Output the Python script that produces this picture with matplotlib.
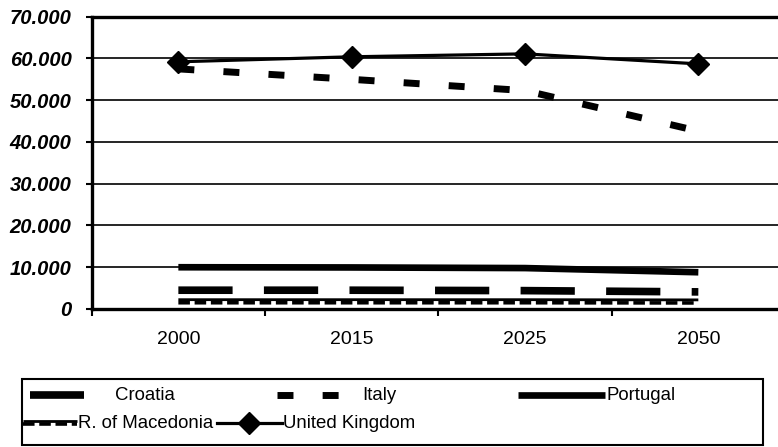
import numpy as np
import matplotlib
matplotlib.use('Agg')
import matplotlib.pyplot as plt
from matplotlib.patches import Rectangle
from matplotlib.ticker import FuncFormatter, FixedLocator
from matplotlib.transforms import offset_copy

plt.rcParams['font.family'] = ['Liberation Sans', 'DejaVu Sans']

# population, thousands
years = ['2000', '2015', '2025', '2050']
croatia = [4500, 4500, 4400, 4100]
italy = [57500, 55000, 52300, 42600]
portugal = [10000, 9950, 9800, 8800]
macedonia = [1800, 1800, 1800, 1750]
uk = [59200, 60400, 61100, 58700]

W, H = 778, 447
fig = plt.figure(figsize=(W / 100, H / 100), dpi=100)
# plot area runs a little past the right edge of the picture, as in the original
ax = fig.add_axes([91.7 / W, 1 - 309 / H, (785 - 91.7) / W, (309 - 16.7) / H])

x = np.arange(len(years))

sty_croatia = dict(color='black', lw=5.5, dashes=(7.1, 4.1), dash_capstyle='butt')
sty_italy = dict(color='black', lw=5, dashes=(2.3, 4.2), dash_capstyle='butt')
sty_portugal = dict(color='black', lw=4.8, solid_capstyle='butt')
sty_mac_top = dict(color='black', lw=2.0, solid_capstyle='butt')
sty_mac_bot = dict(color='black', lw=2.6, dashes=(3.2, 1.3), dash_capstyle='butt')
sty_uk = dict(color='black', lw=2.3)

ax.plot(x, croatia, **sty_croatia)
ax.plot(x, italy, **sty_italy)
ax.plot(x, portugal, **sty_portugal)
ax.plot(x, macedonia, transform=offset_copy(ax.transData, fig=fig, y=1.3, units='points'), **sty_mac_top)
ax.plot(x, macedonia, transform=offset_copy(ax.transData, fig=fig, y=-0.9, units='points'), **sty_mac_bot)
ax.plot(x, uk, marker='D', ms=11, **sty_uk, zorder=5)

ax.set_xlim(-0.5, len(years) - 0.5)
ax.set_ylim(0, 70000)
ax.set_yticks(np.arange(0, 70001, 10000))
ax.yaxis.set_major_formatter(FuncFormatter(lambda v, p: f'{v:,.0f}'.replace(',', '.')))
ax.yaxis.grid(True, color='black', lw=1.2)
ax.set_axisbelow(True)

ax.set_xticks(x)
ax.set_xticklabels(years)
ax.xaxis.set_minor_locator(FixedLocator(np.arange(-0.5, len(years) - 0.5, 1)))
ax.tick_params(axis='x', which='major', length=0, pad=16, labelsize=14)
ax.tick_params(axis='x', which='minor', length=5, width=1.5, direction='out')
ax.tick_params(axis='y', length=4.5, width=1.5, direction='out', pad=10, labelsize=14.5)
for lab in ax.get_yticklabels():
    lab.set_fontweight('bold')
    lab.set_fontstyle('italic')

for s in ['left', 'bottom', 'top']:
    ax.spines[s].set_linewidth(2.4)
ax.spines['right'].set_visible(False)

# legend drawn in pixel coordinates of the figure
lg = fig.add_axes([0, 0, 1, 1])
lg.set_xlim(0, W)
lg.set_ylim(H, 0)
lg.axis('off')
lg.add_patch(Rectangle((21.7, 379), 741, 66, fill=False, lw=1.5, ec='black'))

r1, r2 = 395, 423
fs = 13.4
lg.plot([30, 84], [r1, r1], **sty_croatia)
lg.text(115, r1, 'Croatia', fontsize=fs, va='center')
lg.plot([277, 339], [r1, r1], **sty_italy)
lg.text(362, r1, 'Italy', fontsize=fs, va='center')
lg.plot([518, 605], [r1, r1], **sty_portugal)
lg.text(607, r1, 'Portugal', fontsize=fs, va='center')
lg.plot([23, 77], [r2 - 1.8, r2 - 1.8], **sty_mac_top)
lg.plot([23, 77], [r2 + 1.2, r2 + 1.2], **sty_mac_bot)
lg.text(78, r2, 'R. of Macedonia', fontsize=fs, va='center')
lg.plot([217, 282], [r2, r2], **sty_uk)
lg.plot([249], [r2], marker='D', ms=11, color='black')
lg.text(283, r2, 'United Kingdom', fontsize=fs, va='center')

fig.savefig('out.png', dpi=100)
